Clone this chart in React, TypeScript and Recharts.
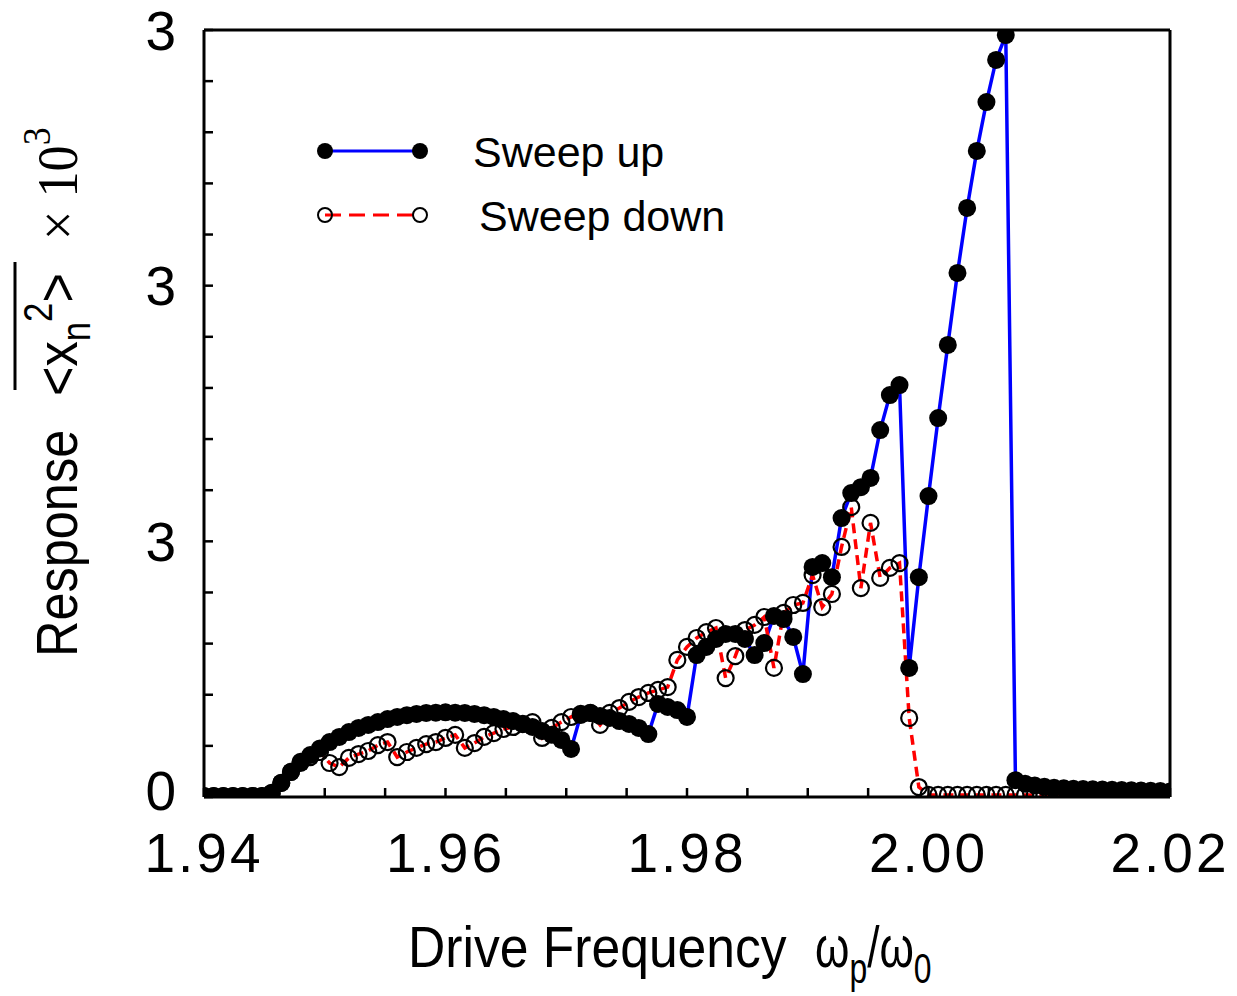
import { LineChart, Line, XAxis, YAxis } from 'recharts';

// drive frequency (omega_p / omega_0)
const freq = [
  1.9400, 1.9408, 1.9416, 1.9424, 1.9432, 1.9440, 1.9448, 1.9456, 1.9464, 1.9472,
  1.9480, 1.9488, 1.9496, 1.9504, 1.9512, 1.9520, 1.9528, 1.9536, 1.9544, 1.9552,
  1.9560, 1.9568, 1.9576, 1.9584, 1.9592, 1.9600, 1.9608, 1.9616, 1.9624, 1.9632,
  1.9640, 1.9648, 1.9656, 1.9664, 1.9672, 1.9680, 1.9688, 1.9696, 1.9704, 1.9712,
  1.9720, 1.9728, 1.9736, 1.9744, 1.9752, 1.9760, 1.9768, 1.9776, 1.9784, 1.9792,
  1.9800, 1.9808, 1.9816, 1.9824, 1.9832, 1.9840, 1.9848, 1.9856, 1.9864, 1.9872,
  1.9880, 1.9888, 1.9896, 1.9904, 1.9912, 1.9920, 1.9928, 1.9936, 1.9944, 1.9952,
  1.9960, 1.9968, 1.9976, 1.9984, 1.9992, 2.0000, 2.0008, 2.0016, 2.0024, 2.0032,
  2.0040, 2.0048, 2.0056, 2.0064, 2.0072, 2.0080, 2.0088, 2.0096, 2.0104, 2.0112,
  2.0120, 2.0128, 2.0136, 2.0144, 2.0152, 2.0160, 2.0168, 2.0176, 2.0184, 2.0192,
  2.0200,
];

const sweepUp = [
  0.004, 0.004, 0.004, 0.004, 0.004, 0.004, 0.004, 0.015, 0.055, 0.098,
  0.133, 0.164, 0.19, 0.215, 0.235, 0.254, 0.27, 0.282, 0.293, 0.305,
  0.313, 0.32, 0.325, 0.329, 0.33, 0.331, 0.33, 0.329, 0.325, 0.32,
  0.313, 0.305, 0.297, 0.285, 0.274, 0.258, 0.243, 0.223, 0.188, 0.321,
  0.329, 0.317, 0.309, 0.297, 0.286, 0.27, 0.246, 0.364, 0.352, 0.34,
  0.313, 0.555, 0.587, 0.618, 0.638, 0.638, 0.618, 0.555, 0.602, 0.708,
  0.696, 0.626, 0.481, 0.9, 0.915, 0.86, 1.091, 1.189, 1.212, 1.248,
  1.435, 1.572, 1.611, 0.505, 0.86, 1.177, 1.482, 1.768, 2.05, 2.304,
  2.527, 2.718, 2.883, 2.98, 0.066, 0.052, 0.045, 0.04, 0.036, 0.034,
  0.032, 0.031, 0.03, 0.029, 0.028, 0.027, 0.026, 0.025, 0.024, 0.023,
  0.022,
];

const sweepDown = [
  0.004, 0.004, 0.004, 0.004, 0.004, 0.004, 0.004, 0.016, 0.055, 0.098,
  0.137, 0.156, 0.176, 0.133, 0.117, 0.153, 0.168, 0.18, 0.203, 0.215,
  0.156, 0.176, 0.192, 0.207, 0.215, 0.231, 0.243, 0.192, 0.211, 0.235,
  0.25, 0.266, 0.274, 0.286, 0.293, 0.231, 0.27, 0.293, 0.313, 0.325,
  0.329, 0.282, 0.329, 0.348, 0.372, 0.391, 0.407, 0.419, 0.43, 0.536,
  0.587, 0.622, 0.645, 0.661, 0.465, 0.551, 0.653, 0.673, 0.704, 0.505,
  0.72, 0.751, 0.759, 0.868, 0.743, 0.794, 0.978, 1.134, 0.817, 1.072,
  0.857, 0.896, 0.915, 0.309, 0.039, 0.008, 0.008, 0.008, 0.008, 0.008,
  0.008, 0.008, 0.008, 0.008, 0.008, 0.008, 0.008, 0.008, 0.008, 0.008,
  0.008, 0.008, 0.008, 0.008, 0.008, 0.008, 0.008, 0.008, 0.008, 0.008,
  0.008,
];

const xTicks = [
  1.94, 1.945, 1.95, 1.955, 1.96, 1.965, 1.97, 1.975, 1.98,
  1.985, 1.99, 1.995, 2.0, 2.005, 2.01, 2.015, 2.02,
];
const xMajor = [1.94, 1.96, 1.98, 2.0, 2.02];
const xTickLabels = ['1.94', '1.96', '1.98', '2.00', '2.02'];

const yTicks = [0, 0.2, 0.4, 0.6, 0.8, 1, 1.2, 1.4, 1.6, 1.8, 2, 2.2, 2.4, 2.6, 2.8, 3];
const yMajor = [0, 1, 2, 3];
const yTickLabels = ['0', '3', '3', '3'];

const data = freq.map((f, i) => ({ f, up: sweepUp[i], down: sweepDown[i] }));

const FONT = 'Liberation Sans, Arial, sans-serif';

const fmt = (major: number[], labels: string[]) => (v: number) => {
  const k = major.findIndex((m) => Math.abs(m - v) < 1e-6);
  return k >= 0 ? labels[k] : '';
};
const yLabel = fmt(yMajor, yTickLabels);

const tickStyle = { fontSize: 55, fill: '#000', fontFamily: FONT, letterSpacing: 3 };
const axisLine = { stroke: '#000', strokeWidth: 3 };
const tickLine = { stroke: '#000', strokeWidth: 2.5 };

// y tick text; the bottom "0" sits a touch higher so it clears "1.94"
const YTick = ({ x, y, payload }: any) => {
  const txt = yLabel(payload.value);
  if (!txt) return null;
  return (
    <text
      x={x}
      y={y + (payload.value === 0 ? -7 : 0)}
      dy="0.355em"
      textAnchor="end"
      fontSize={55}
      fontFamily={FONT}
      fill="#000"
    >
      {txt}
    </text>
  );
};

export default function App() {
  return (
    <div style={{ position: 'absolute', left: 0, top: 0, width: 1237, height: 996, background: '#fff' }}>
      <LineChart width={1237} height={996} data={data} margin={{ top: 29, right: 66, left: 0, bottom: 0 }}>
        <XAxis
          dataKey="f"
          type="number"
          domain={[1.94, 2.02]}
          allowDataOverflow
          ticks={xTicks}
          interval={0}
          height={199}
          tickSize={-9}
          tickMargin={45}
          tickFormatter={fmt(xMajor, xTickLabels)}
          tick={tickStyle}
          axisLine={axisLine}
          tickLine={tickLine}
        />
        <XAxis
          xAxisId="top"
          orientation="top"
          type="number"
          domain={[1.94, 2.02]}
          allowDataOverflow
          ticks={xTicks}
          interval={0}
          height={1}
          tickSize={-9}
          tick={false}
          axisLine={axisLine}
          tickLine={tickLine}
        />
        <YAxis
          type="number"
          domain={[0, 3]}
          allowDataOverflow
          ticks={yTicks}
          interval={0}
          width={204}
          tickSize={-9}
          tickMargin={37}
          tick={<YTick />}
          axisLine={axisLine}
          tickLine={tickLine}
        />
        <YAxis
          yAxisId="right"
          orientation="right"
          type="number"
          domain={[0, 3]}
          allowDataOverflow
          ticks={yTicks}
          interval={0}
          width={1}
          tickSize={-9}
          tick={false}
          axisLine={axisLine}
          tickLine={tickLine}
        />
        <Line
          dataKey="up"
          type="linear"
          stroke="#0000ff"
          strokeWidth={3.5}
          dot={{ r: 9, fill: '#000', stroke: '#000', strokeWidth: 0 }}
          activeDot={false}
          isAnimationActive={false}
        />
        <Line
          dataKey="down"
          type="linear"
          stroke="#ff0000"
          strokeWidth={3.5}
          strokeDasharray="10 6"
          dot={{ r: 8, fill: 'none', stroke: '#000', strokeWidth: 2.2, strokeDasharray: 'none' }}
          activeDot={false}
          isAnimationActive={false}
        />
      </LineChart>

      <svg
        width={1237}
        height={996}
        style={{ position: 'absolute', left: 0, top: 0, pointerEvents: 'none' }}
        fontFamily={FONT}
      >
        {/* legend */}
        <line x1={325} y1={151} x2={420} y2={151} stroke="#0000ff" strokeWidth={3} />
        <circle cx={325} cy={151} r={8} fill="#000" />
        <circle cx={420} cy={151} r={8} fill="#000" />
        <text x={473} y={167} fontSize={43}>Sweep up</text>
        <line x1={325} y1={215} x2={420} y2={215} stroke="#ff0000" strokeWidth={3} strokeDasharray="16 8" />
        <circle cx={325} cy={215} r={7} fill="none" stroke="#000" strokeWidth={2} />
        <circle cx={420} cy={215} r={7} fill="none" stroke="#000" strokeWidth={2} />
        <text x={479} y={231} fontSize={43}>Sweep down</text>

        {/* x axis label */}
        <g transform="translate(408,967) scale(0.89,1)">
          <text fontSize={58}>Drive Frequency</text>
        </g>
        <g transform="translate(815,967) scale(0.76,1)">
          <text fontSize={58}>
            ω<tspan fontSize={42} dy={16}>p</tspan>
            <tspan fontSize={58} dy={-16}>/ω</tspan>
            <tspan fontSize={42} dy={16}>0</tspan>
          </text>
        </g>

        {/* y axis label */}
        <g transform="translate(77,657) rotate(-90) scale(0.87,1)">
          <text fontSize={58}>Response</text>
        </g>
        <g transform="translate(77,396) rotate(-90) scale(0.87,1)">
          <text fontSize={58}>
            &lt;x<tspan fontSize={40} dy={13}>n</tspan>
            <tspan fontSize={40} dy={-38}>2</tspan>
            <tspan fontSize={58} dy={25}>&gt;</tspan>
          </text>
        </g>
        <line x1={15} y1={262} x2={15} y2={390} stroke="#000" strokeWidth={3} />
        <g transform="translate(77,240) rotate(-90) scale(0.9,1)">
          <text fontSize={58} fontFamily="Liberation Serif, serif">
            × 10<tspan fontSize={40} dy={-27}>3</tspan>
          </text>
        </g>
      </svg>
    </div>
  );
}
